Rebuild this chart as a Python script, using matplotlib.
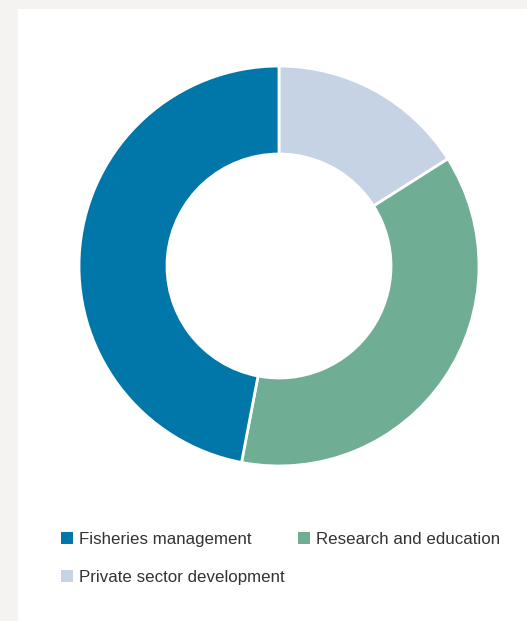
import matplotlib.pyplot as plt
from matplotlib.patches import Rectangle

labels = ['Fisheries management', 'Research and education', 'Private sector development']
values = [47, 37, 16]
colors = ['#0077a8', '#6fae94', '#c5d3e4']

W, H = 527, 621
fig = plt.figure(figsize=(W / 100, H / 100), dpi=100)
fig.patch.set_facecolor('#f4f3f1')
# white panel
fig.add_artist(Rectangle((18 / W, 0), 1 - 18 / W, (H - 9) / H, transform=fig.transFigure,
                         facecolor='white', edgecolor='none', zorder=0))

# donut, centre (279, 266) px, outer radius 200 px
ax = fig.add_axes([79 / W, (H - 466) / H, 400 / W, 400 / H])
order = [2, 1, 0]
ax.pie([values[i] for i in order], colors=[colors[i] for i in order],
       startangle=90, counterclock=False, radius=1,
       wedgeprops=dict(width=0.44, edgecolor='white', linewidth=2))
ax.set_xlim(-1, 1)
ax.set_ylim(-1, 1)
ax.set_facecolor('none')

# legend
pos = [(61, 544), (298, 544), (61, 582)]
for (x, y), lab, c in zip(pos, labels, colors):
    fig.add_artist(Rectangle((x / W, (H - y) / H), 12 / W, 12 / H, transform=fig.transFigure,
                             facecolor=c, edgecolor='none'))
    fig.text((x + 18) / W, (H - y) / H, lab, fontsize=12.2, family='Liberation Sans',
             color='#333333', va='baseline', ha='left')

fig.savefig('out.png', dpi=100, facecolor=fig.get_facecolor())
